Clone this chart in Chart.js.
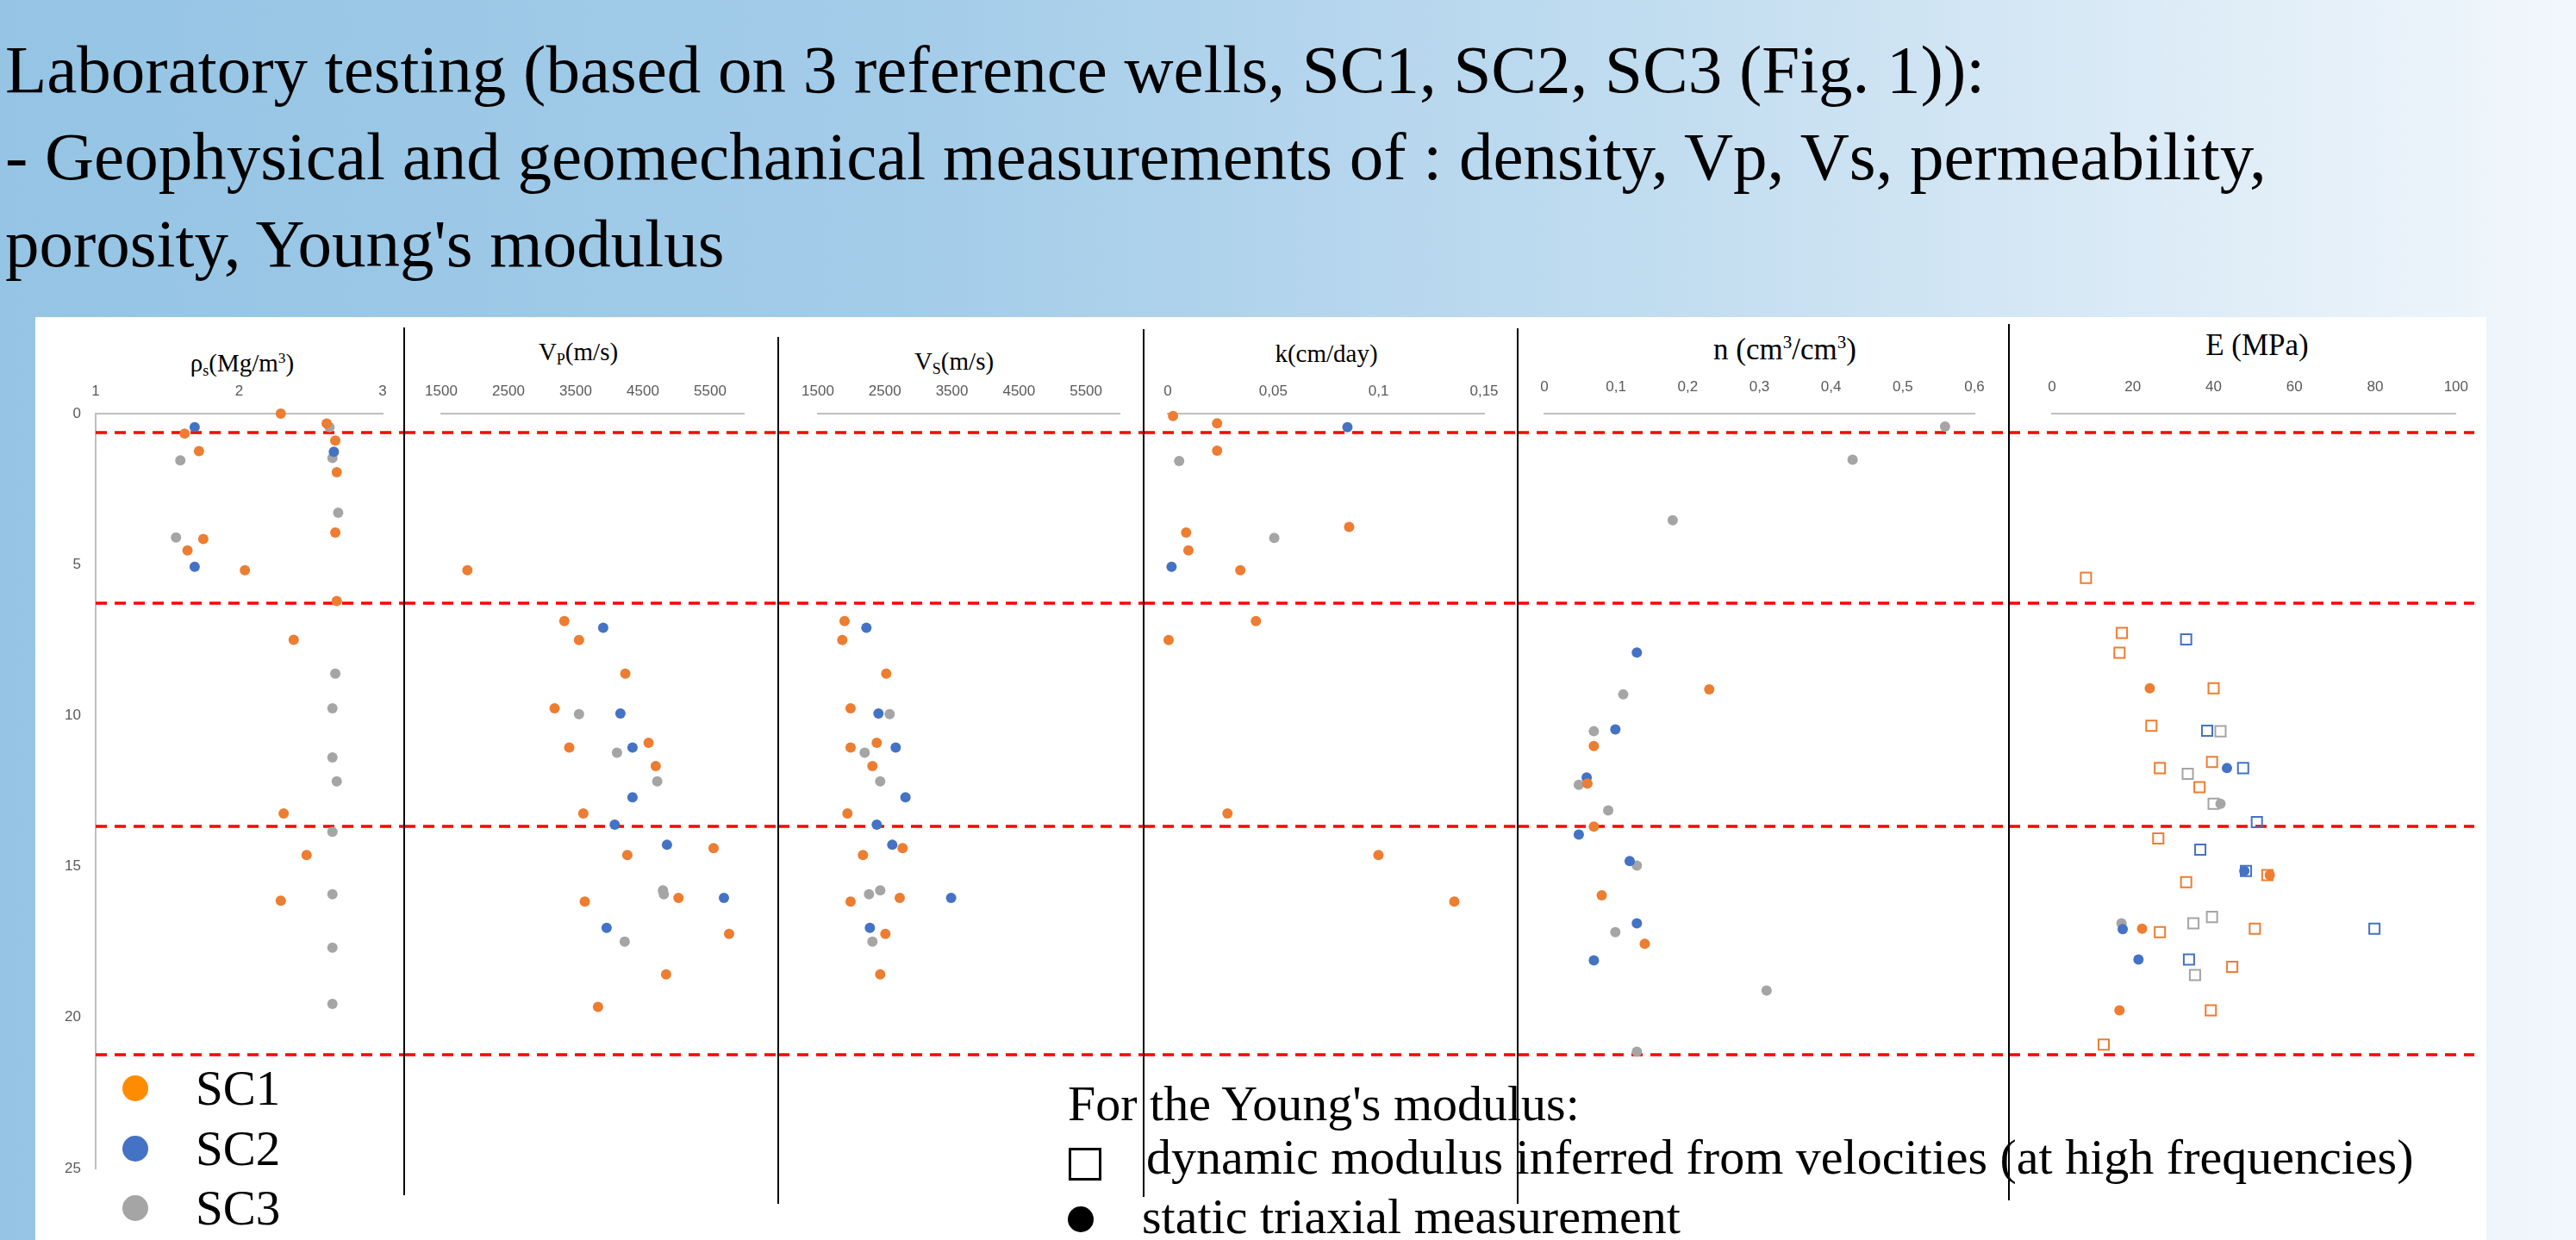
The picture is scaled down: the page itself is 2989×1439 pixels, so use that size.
<!DOCTYPE html>
<html>
<head>
<meta charset="utf-8">
<script src="https://cdn.jsdelivr.net/npm/chart.js@4.4.1/dist/chart.umd.min.js"></script>
<style>
  html, body { margin: 0; padding: 0; }
  body {
    width: 2989px; height: 1439px; overflow: hidden; position: relative;
    background: linear-gradient(to right, #95c4e4 0%, #a3cce9 35%, #c2ddf0 65%, #f2f7fc 100%);
    font-family: 'Liberation Serif', 'Times New Roman', serif;
    color: #000;
  }
  #sheet { position: absolute; left: 41px; top: 368px; width: 2844px; height: 1071px; background: #fff; }
  canvas { position: absolute; }
  .txt { position: absolute; white-space: nowrap; }
  .ttl { position: absolute; width: 600px; text-align: center; white-space: nowrap; }
  .sep { position: absolute; width: 2px; background: #000; z-index: 5; }
  .sub { font-size: .62em; position: relative; top: .28em; }
  .sup { font-size: .6em; position: relative; top: -.6em; }
  .dot { position: absolute; border-radius: 50%; }
</style>
</head>
<body>
<div id="sheet"></div>

<div class="txt" style="left:6px;top:41px;font-size:79px;line-height:79px">Laboratory testing (based on 3 reference wells, SC1, SC2, SC3 (Fig. 1)):</div>
<div class="txt" style="left:6px;top:142px;font-size:79px;line-height:79px">- Geophysical and geomechanical measurements of : density, Vp, Vs, permeability,</div>
<div class="txt" style="left:6px;top:243px;font-size:79px;line-height:79px">porosity, Young's modulus</div>

<div class="ttl" style="left:-19px;top:407px;font-size:29px;line-height:29px">ρ<span class="sub">s</span>(Mg/m<span class="sup">3</span>)</div>
<div class="ttl" style="left:371px;top:394px;font-size:29px;line-height:29px">V<span class="sub">P</span>(m/s)</div>
<div class="ttl" style="left:807px;top:405px;font-size:29px;line-height:29px">V<span class="sub">S</span>(m/s)</div>
<div class="ttl" style="left:1239px;top:396px;font-size:29px;line-height:29px">k(cm/day)</div>
<div class="ttl" style="left:1771px;top:388px;font-size:35px;line-height:35px">n (cm<span class="sup">3</span>/cm<span class="sup">3</span>)</div>
<div class="ttl" style="left:2319px;top:383px;font-size:35px;line-height:35px">E (MPa)</div>

<canvas id="rho"></canvas>
<canvas id="vp"></canvas>
<canvas id="vs"></canvas>
<canvas id="perm"></canvas>
<canvas id="poro"></canvas>
<canvas id="young"></canvas>

<div id="wellLegend"></div>

<div class="txt" style="left:1239px;top:1252px;font-size:58px;line-height:58px">For the Young's modulus:</div>
<div style="position:absolute;left:1240px;top:1332px;width:32px;height:32px;border:3px solid #000;background:#fff"></div>
<div class="txt" style="left:1330px;top:1314px;font-size:58px;line-height:58px">dynamic modulus inferred from velocities (at high frequencies)</div>
<div class="dot" style="left:1239px;top:1400px;width:30px;height:30px;background:#000"></div>
<div class="txt" style="left:1325px;top:1383px;font-size:58px;line-height:58px">static triaxial measurement</div>

<script>
const wells = ['SC1', 'SC2', 'SC3']
const wellColors = ['#ED7D31', '#4472C4', '#A5A5A5']
const legendColors = ['#FF8C00', '#4472C4', '#A5A5A5']

const depthTicks = [0, 5, 10, 15, 20, 25]
// red dashed boundaries between units (depth, m)
const zoneDepths = [0.64, 6.29, 13.68, 21.24]

const rhoTicks = [1, 2, 3]
const velTicks = [1500, 2500, 3500, 4500, 5500]
const kTicks = [0, 0.05, 0.1, 0.15]
const nTicks = [0, 0.1, 0.2, 0.3, 0.4, 0.5, 0.6]
const eTicks = [0, 20, 40, 60, 80, 100]

// [value, depth]
const rhoSC1 = [[2.29, 0.00], [1.62, 0.66], [2.61, 0.33], [2.67, 0.89], [1.72, 1.24], [2.68, 1.94], [2.67, 3.94], [1.75, 4.15], [1.64, 4.53], [2.04, 5.19], [2.68, 6.21], [2.38, 7.49], [2.31, 13.24], [2.47, 14.62], [2.29, 16.13]]
const rhoSC2 = [[1.69, 0.45], [2.66, 1.26], [1.69, 5.07]]
const rhoSC3 = [[2.63, 0.45], [1.59, 1.55], [2.65, 1.47], [2.69, 3.28], [1.56, 4.10], [2.67, 8.61], [2.65, 9.76], [2.65, 11.39], [2.68, 12.18], [2.65, 13.85], [2.65, 15.92], [2.65, 17.69], [2.65, 19.55]]

const vpSC1 = [[1889, 5.19], [3331, 6.87], [3549, 7.50], [4238, 8.61], [3186, 9.76], [4584, 10.90], [3404, 11.06], [4691, 11.67], [3613, 13.24], [5551, 14.39], [4268, 14.62], [5029, 16.04], [3635, 16.16], [5782, 17.23], [4845, 18.57], [3832, 19.65]]
const vpSC2 = [[3909, 7.09], [4165, 9.93], [4345, 11.06], [4345, 12.71], [4080, 13.61], [4858, 14.28], [5705, 16.04], [3960, 17.03]]
const vpSC3 = [[3549, 9.95], [4114, 11.23], [4713, 12.18], [4798, 15.79], [4811, 15.92], [4229, 17.49]]

const vsSC1 = [[1898, 6.87], [1864, 7.50], [2520, 8.61], [1988, 9.76], [2378, 10.90], [1988, 11.06], [2314, 11.67], [1941, 13.24], [2764, 14.39], [2173, 14.62], [2721, 16.04], [1988, 16.16], [2507, 17.23], [2430, 18.57]]
const vsSC2 = [[2224, 7.09], [2404, 9.93], [2661, 11.06], [2807, 12.71], [2378, 13.61], [2610, 14.28], [3488, 16.04], [2276, 17.03]]
const vsSC3 = [[2571, 9.95], [2198, 11.23], [2430, 12.18], [2430, 15.79], [2263, 15.92], [2314, 17.49]]

const kSC1 = [[0.0025, 0.08], [0.0234, 0.32], [0.0234, 1.23], [0.0860, 3.75], [0.0087, 3.94], [0.0098, 4.53], [0.0344, 5.19], [0.0418, 6.87], [0.0004, 7.50], [0.0283, 13.24], [0.0999, 14.62], [0.1359, 16.16]]
const kSC2 = [[0.0852, 0.45], [0.0018, 5.07]]
const kSC3 = [[0.0054, 1.57], [0.0505, 4.12]]

const nSC1 = [[0.230, 9.13], [0.069, 11.01], [0.060, 12.25], [0.069, 13.68], [0.080, 15.95], [0.140, 17.56]]
const nSC2 = [[0.129, 7.91], [0.099, 10.46], [0.059, 12.05], [0.048, 13.94], [0.119, 14.82], [0.129, 16.88], [0.069, 18.11]]
const nSC3 = [[0.559, 0.43], [0.430, 1.53], [0.179, 3.53], [0.110, 9.30], [0.069, 10.52], [0.048, 12.29], [0.089, 13.14], [0.129, 14.97], [0.099, 17.17], [0.310, 19.11], [0.129, 21.13]]

// Young's modulus: dynamic (squares) and static triaxial (circles)
const eDynSC1 = [[8.4, 5.44], [17.3, 7.26], [16.7, 7.92], [40.0, 9.10], [24.6, 10.34], [26.7, 11.74], [39.6, 11.54], [36.5, 12.37], [26.3, 14.07], [53.3, 15.28], [33.2, 15.52], [26.7, 17.17], [50.2, 17.06], [44.6, 18.32], [39.3, 19.76], [12.8, 20.90]]
const eDynSC2 = [[33.2, 7.48], [38.4, 10.50], [47.3, 11.74], [50.7, 13.53], [36.7, 14.44], [48.0, 15.15], [79.8, 17.06], [33.9, 18.08]]
const eDynSC3 = [[41.7, 10.52], [33.6, 11.93], [40.0, 12.92], [39.6, 16.67], [35.0, 16.88], [35.4, 18.59]]
const eStaSC1 = [[24.2, 9.10], [53.9, 15.28], [22.3, 17.06], [16.7, 19.76]]
const eStaSC2 = [[43.3, 11.74], [47.6, 15.15], [17.5, 17.07], [21.4, 18.08]]
const eStaSC3 = [[41.7, 12.92], [17.2, 16.88]]

Chart.defaults.font.family = "'Liberation Sans', Arial, sans-serif"
Chart.defaults.color = '#595959'

const PAGE_H = 1439
const CANVAS_TOP = 380
const AXIS_H = 100      // chart area starts at y = 480
const BOTTOM_PAD = 83   // depth 25 at y = 1356

const pts = arr => arr.map(([x, y]) => ({ x, y }))
const comma = v => String(v).replace('.', ',')

function dots(series, order) {
  return series.map((s, i) => ({
    label: wells[i],
    data: pts(s),
    backgroundColor: wellColors[i],
    borderWidth: 0,
    pointRadius: 6,
    pointHoverRadius: 6,
    clip: false,
    order: order || 0
  }))
}

function squares(series) {
  return series.map((s, i) => ({
    label: wells[i] + ' dynamic',
    data: pts(s),
    pointStyle: 'rect',
    backgroundColor: 'rgba(255,255,255,0)',
    borderColor: wellColors[i],
    borderWidth: 2,
    pointRadius: 8.5,
    pointHoverRadius: 8.5,
    clip: false,
    order: 1
  }))
}

const zoneLines = {
  id: 'zoneLines',
  beforeDatasetsDraw(chart, args, opts) {
    const { ctx } = chart
    const y = chart.scales.y
    ctx.save()
    ctx.strokeStyle = '#FF0000'
    ctx.lineWidth = 3.5
    ctx.setLineDash([13, 9])
    zoneDepths.forEach(d => {
      const py = Math.round(y.getPixelForValue(d))
      ctx.beginPath()
      ctx.moveTo(opts.from === 'area' ? chart.chartArea.left : 0, py)
      ctx.lineTo(opts.to == null ? chart.width : opts.to, py)
      ctx.stroke()
    })
    ctx.restore()
  }
}

function makePanel(id, geo, xs, datasets) {
  const cv = document.getElementById(id)
  cv.width = geo.right - geo.left
  cv.height = PAGE_H - CANVAS_TOP
  cv.style.left = geo.left + 'px'
  cv.style.top = CANVAS_TOP + 'px'
  // the y scale box (shown or hidden) takes the room left of the plot area
  const yAxisW = geo.chartLeft - geo.left

  new Chart(cv.getContext('2d'), {
    type: 'scatter',
    data: { datasets },
    options: {
      responsive: false,
      animation: false,
      devicePixelRatio: 1,
      layout: {
        padding: { left: 0, right: geo.right - geo.chartRight, top: 0, bottom: BOTTOM_PAD }
      },
      scales: {
        x: {
          type: 'linear',
          position: 'top',
          min: xs.min,
          max: xs.max,
          afterBuildTicks: s => { s.ticks = xs.ticks.map(v => ({ value: v })) },
          afterFit: s => { s.height = AXIS_H },
          grid: { display: false, drawTicks: false },
          border: { display: true, color: '#BFBFBF', width: 2 },
          ticks: { padding: geo.tickPad, autoSkip: false, maxRotation: 0, font: { size: 17 }, callback: comma }
        },
        y: {
          type: 'linear',
          display: !!geo.depthAxis,
          reverse: true,
          min: 0,
          max: 25,
          afterBuildTicks: s => { s.ticks = depthTicks.map(v => ({ value: v })) },
          afterFit: s => { s.width = yAxisW },
          grid: { display: false, drawTicks: false },
          border: { display: true, color: '#BFBFBF', width: 2 },
          ticks: { padding: 17, font: { size: 17 } }
        }
      },
      plugins: {
        legend: { display: false },
        tooltip: { enabled: false },
        zoneLines: { from: geo.depthAxis ? 'area' : 'edge', to: geo.lineEnd }
      }
    },
    plugins: [zoneLines]
  })
}

makePanel('rho', { left: 42, right: 469, chartLeft: 111, chartRight: 444, depthAxis: true, tickPad: 15 },
  { min: 1, max: 3, ticks: rhoTicks }, dots([rhoSC1, rhoSC2, rhoSC3]))
makePanel('vp', { left: 469, right: 903, chartLeft: 512, chartRight: 863, tickPad: 15 },
  { min: 1500, max: 6000, ticks: velTicks }, dots([vpSC1, vpSC2, vpSC3]))
makePanel('vs', { left: 903, right: 1327, chartLeft: 949, chartRight: 1299, tickPad: 15 },
  { min: 1500, max: 6000, ticks: velTicks }, dots([vsSC1, vsSC2, vsSC3]))
makePanel('perm', { left: 1327, right: 1761, chartLeft: 1355, chartRight: 1722, tickPad: 15 },
  { min: 0, max: 0.15, ticks: kTicks }, dots([kSC1, kSC2, kSC3]))
makePanel('poro', { left: 1761, right: 2331, chartLeft: 1792, chartRight: 2291, tickPad: 20 },
  { min: 0, max: 0.6, ticks: nTicks }, dots([nSC1, nSC2, nSC3]))
makePanel('young', { left: 2331, right: 2884, chartLeft: 2381, chartRight: 2852, tickPad: 20, lineEnd: 540 },
  { min: 0, max: 100, ticks: eTicks },
  squares([eDynSC1, eDynSC2, eDynSC3]).concat(dots([eStaSC1, eStaSC2, eStaSC3], 0)))

// vertical panel separators
const sepX = [469, 903, 1327, 1761, 2331]
const sepTop = [380, 391, 382, 381, 376]
const sepBottom = [1387, 1397, 1389, 1397, 1393]
sepX.forEach((x, i) => {
  const d = document.createElement('div')
  d.className = 'sep'
  d.style.left = (x - 1) + 'px'
  d.style.top = sepTop[i] + 'px'
  d.style.height = (sepBottom[i] - sepTop[i]) + 'px'
  document.body.appendChild(d)
})

// well legend
const legend = document.getElementById('wellLegend')
wells.forEach((w, i) => {
  const dot = document.createElement('div')
  dot.className = 'dot'
  dot.style.cssText = `left:142px;top:${1248 + i * 69.5}px;width:30px;height:30px;background:${legendColors[i]}`
  legend.appendChild(dot)
  const t = document.createElement('div')
  t.className = 'txt'
  t.style.cssText = `left:227px;top:${1234 + i * 69.5}px;font-size:57px;line-height:57px`
  t.textContent = w
  legend.appendChild(t)
})
</script>
</body>
</html>
